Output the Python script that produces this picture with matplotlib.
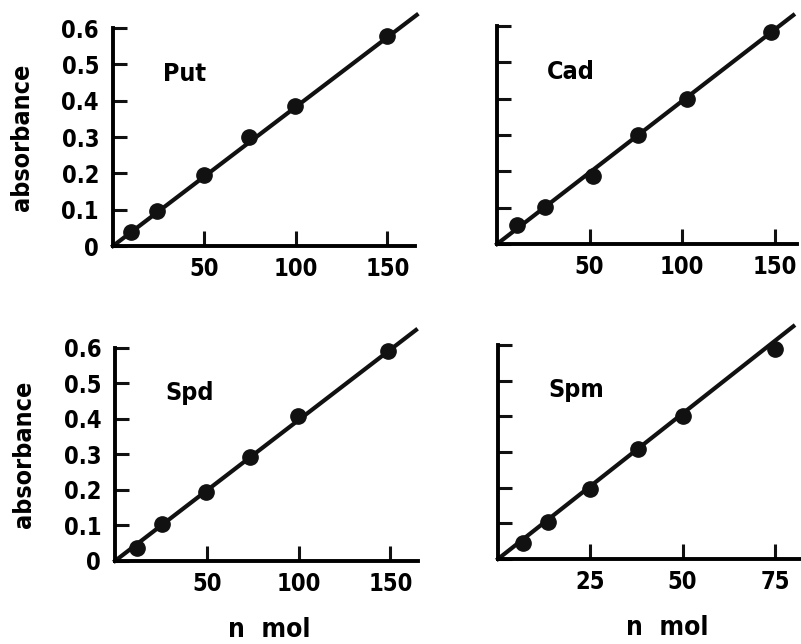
import matplotlib

matplotlib.use("Agg")
import matplotlib.pyplot as plt

plt.rcParams["font.family"] = ["DejaVu Sans"]
plt.rcParams["font.weight"] = "bold"
plt.rcParams["font.stretch"] = "condensed"
plt.rcParams["axes.labelweight"] = "bold"
plt.rcParams.update({"font.size": 17})
plt.rcParams["axes.spines.top"] = False
plt.rcParams["axes.spines.right"] = False
plt.rcParams["axes.linewidth"] = 2.8

# panel names
names = ["Put", "Cad", "Spd", "Spm"]

# measured points (nmol, absorbance)
put_x = [10, 24, 50, 74.5, 99.5, 150]
put_y = [0.038, 0.096, 0.195, 0.299, 0.384, 0.578]
cad_x = [11, 26, 52, 76, 102.5, 148]
cad_y = [0.052, 0.101, 0.186, 0.301, 0.40, 0.584]
spd_x = [12, 25.5, 49.5, 73.5, 99.5, 149]
spd_y = [0.037, 0.104, 0.195, 0.293, 0.408, 0.59]
spm_x = [6.7, 13.5, 25, 38, 50, 75]
spm_y = [0.045, 0.104, 0.197, 0.31, 0.40, 0.59]

# fitted lines (start, end)
put_line = ([0, 166], [0, 0.636])
cad_line = ([0, 160], [0, 0.63])
spd_line = ([0, 164], [0, 0.65])
spm_line = ([0, 80], [0, 0.653])

# axis ranges and ticks
x_max = [165, 162, 165, 82]
x_ticks = [[50, 100, 150], [50, 100, 150], [50, 100, 150], [25, 50, 75]]
y_ticks = [0, 0.1, 0.2, 0.3, 0.4, 0.5, 0.6]
y_labels = ["0", "0.1", "0.2", "0.3", "0.4", "0.5", "0.6"]

xs = [put_x, cad_x, spd_x, spm_x]
ys = [put_y, cad_y, spd_y, spm_y]
lines = [put_line, cad_line, spd_line, spm_line]

# axes rectangles in figure fractions
rects = [
    [0.141, 0.618, 0.377, 0.3385],
    [0.6205, 0.621, 0.3745, 0.3385],
    [0.1436, 0.129, 0.378, 0.331],
    [0.6217, 0.132, 0.378, 0.332],
]
xlabel_x = [0.51, 0.51, 0.51, 0.558]


def panel(fig, i):
    ax = fig.add_axes(rects[i])
    lx, ly = lines[i]
    ax.plot(lx, ly, color="#111111", lw=3.0, clip_on=False, zorder=2)
    ax.plot(xs[i], ys[i], "o", color="#111111", ms=11, clip_on=False, zorder=3)

    ax.set_xlim(0, x_max[i])
    ax.set_ylim(0, 0.6)
    ax.set_xticks(x_ticks[i])
    ax.set_yticks(y_ticks)
    ax.tick_params(direction="in", width=2.2, color="#111111")
    ax.tick_params(axis="x", length=11, pad=8)
    ax.tick_params(axis="y", length=10, pad=10)

    if i % 2 == 0:
        ax.set_yticklabels(y_labels)
        ax.set_ylabel("absorbance", fontsize=18)
        ax.yaxis.set_label_coords(-0.262, 0.5)
    else:
        ax.set_yticklabels([])
    if i >= 2:
        ax.set_xlabel("n  mol", fontsize=19, labelpad=15, x=xlabel_x[i])

    ax.text(0.165, 0.79, names[i], transform=ax.transAxes, va="center",
            ha="left", fontsize=18)
    return ax


fig = plt.figure(figsize=(8.01, 6.44), dpi=100)
for k in range(4):
    panel(fig, k)

fig.savefig("out.png", dpi=100)
